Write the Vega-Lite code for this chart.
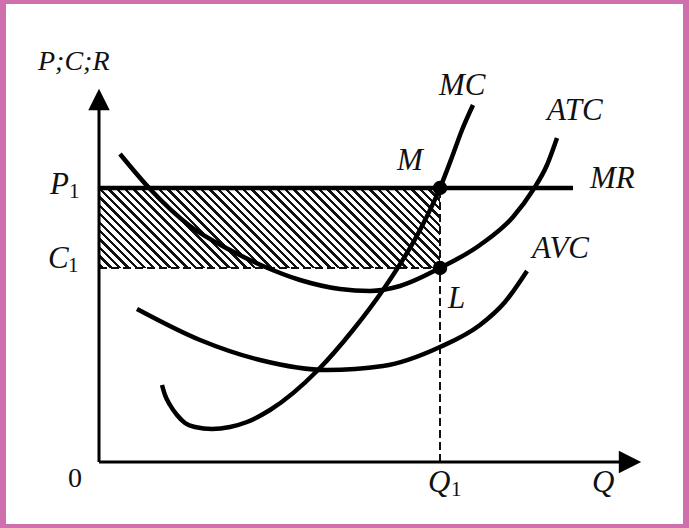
{
  "$schema": "https://vega.github.io/schema/vega-lite/v6.json",
  "width": 689,
  "height": 528,
  "padding": 0,
  "autosize": {"type": "fit", "contains": "padding"},
  "background": "#cf6fae",
  "config": {"view": {"stroke": null}},
  "datasets": {
    "frame": [{"q": -93, "p": 458, "q2": 584, "p2": -62}],
    "profit": [{"q": 0, "p": 274, "q2": 341, "p2": 194}],
    "axes": [
      {"q": 0, "p": 0, "q2": 0, "p2": 355},
      {"q": 0, "p": 0, "q2": 521, "p2": 0}
    ],
    "mr": [{"q": 0, "p": 274, "q2": 474, "p2": 274}],
    "dashed": [
      {"q": 0, "p": 194, "q2": 341, "p2": 194},
      {"q": 341, "p": 0, "q2": 341, "p2": 274}
    ],
    "curves": [
      {"curve": "MC", "q": 63, "p": 77},
      {"curve": "MC", "q": 66, "p": 67},
      {"curve": "MC", "q": 71, "p": 57},
      {"curve": "MC", "q": 78, "p": 47},
      {"curve": "MC", "q": 86, "p": 39},
      {"curve": "MC", "q": 96, "p": 35},
      {"curve": "MC", "q": 113, "p": 33},
      {"curve": "MC", "q": 131, "p": 35},
      {"curve": "MC", "q": 148, "p": 40},
      {"curve": "MC", "q": 171, "p": 52},
      {"curve": "MC", "q": 219, "p": 92},
      {"curve": "MC", "q": 254, "p": 132},
      {"curve": "MC", "q": 284, "p": 172},
      {"curve": "MC", "q": 321, "p": 232},
      {"curve": "MC", "q": 341, "p": 274},
      {"curve": "MC", "q": 353, "p": 305},
      {"curve": "MC", "q": 363, "p": 332},
      {"curve": "MC", "q": 374, "p": 357},
      {"curve": "ATC", "q": 21, "p": 308},
      {"curve": "ATC", "q": 51, "p": 273},
      {"curve": "ATC", "q": 91, "p": 236},
      {"curve": "ATC", "q": 131, "p": 212},
      {"curve": "ATC", "q": 164, "p": 196},
      {"curve": "ATC", "q": 201, "p": 182},
      {"curve": "ATC", "q": 241, "p": 173},
      {"curve": "ATC", "q": 271, "p": 171},
      {"curve": "ATC", "q": 301, "p": 176},
      {"curve": "ATC", "q": 341, "p": 194},
      {"curve": "ATC", "q": 381, "p": 217},
      {"curve": "ATC", "q": 414, "p": 245},
      {"curve": "ATC", "q": 434, "p": 272},
      {"curve": "ATC", "q": 448, "p": 297},
      {"curve": "ATC", "q": 458, "p": 324},
      {"curve": "AVC", "q": 38, "p": 153},
      {"curve": "AVC", "q": 101, "p": 122},
      {"curve": "AVC", "q": 161, "p": 102},
      {"curve": "AVC", "q": 228, "p": 92},
      {"curve": "AVC", "q": 284, "p": 96},
      {"curve": "AVC", "q": 341, "p": 115},
      {"curve": "AVC", "q": 381, "p": 137},
      {"curve": "AVC", "q": 406, "p": 160},
      {"curve": "AVC", "q": 428, "p": 191}
    ],
    "yarrow": [{"q": 0, "p": 362.5}],
    "xarrow": [{"q": 531, "p": 0}],
    "points": [
      {"name": "M", "q": 341, "p": 274},
      {"name": "L", "q": 341, "p": 194}
    ],
    "labels": [
      {"text": "MC", "q": 340, "p": 367},
      {"text": "ATC", "q": 448, "p": 342},
      {"text": "M", "q": 298, "p": 292},
      {"text": "MR", "q": 491, "p": 274},
      {"text": "AVC", "q": 433, "p": 204},
      {"text": "L", "q": 349, "p": 154},
      {"text": "P", "q": -49, "p": 268},
      {"text": "C", "q": -51, "p": 194},
      {"text": "Q", "q": 329, "p": -30},
      {"text": "Q", "q": 493, "p": -30}
    ],
    "title": [{"text": "P;C;R", "q": -61, "p": 392}],
    "subs": [
      {"text": "1", "q": -30, "p": 264},
      {"text": "1", "q": -31, "p": 190},
      {"text": "1", "q": 352, "p": -34}
    ],
    "origin": [{"text": "0", "q": -31, "p": -25}]
  },
  "encoding": {
    "x": {"field": "q", "type": "quantitative", "scale": {"domain": [-99, 590], "nice": false, "zero": false}, "axis": null},
    "y": {"field": "p", "type": "quantitative", "scale": {"domain": [-66, 462], "nice": false, "zero": false}, "axis": null}
  },
  "layer": [
    {
      "data": {"name": "frame"},
      "mark": {"type": "rect", "fill": "#ffffff", "stroke": null},
      "encoding": {"x2": {"field": "q2"}, "y2": {"field": "p2"}}
    },
    {
      "data": {"name": "profit"},
      "mark": {
        "type": "rect",
        "stroke": null,
        "fill": {
          "gradient": "linear",
          "x1": 0, "y1": 1, "x2": 1.1702, "y2": 0.7255,
          "stops": [
            {"offset": 0.006, "color": "#fff"}, {"offset": 0.006, "color": "#111"}, {"offset": 0.014, "color": "#111"}, {"offset": 0.014, "color": "#fff"},
            {"offset": 0.026, "color": "#fff"}, {"offset": 0.026, "color": "#111"}, {"offset": 0.034, "color": "#111"}, {"offset": 0.034, "color": "#fff"},
            {"offset": 0.046, "color": "#fff"}, {"offset": 0.046, "color": "#111"}, {"offset": 0.054, "color": "#111"}, {"offset": 0.054, "color": "#fff"},
            {"offset": 0.066, "color": "#fff"}, {"offset": 0.066, "color": "#111"}, {"offset": 0.074, "color": "#111"}, {"offset": 0.074, "color": "#fff"},
            {"offset": 0.086, "color": "#fff"}, {"offset": 0.086, "color": "#111"}, {"offset": 0.094, "color": "#111"}, {"offset": 0.094, "color": "#fff"},
            {"offset": 0.106, "color": "#fff"}, {"offset": 0.106, "color": "#111"}, {"offset": 0.114, "color": "#111"}, {"offset": 0.114, "color": "#fff"},
            {"offset": 0.126, "color": "#fff"}, {"offset": 0.126, "color": "#111"}, {"offset": 0.134, "color": "#111"}, {"offset": 0.134, "color": "#fff"},
            {"offset": 0.146, "color": "#fff"}, {"offset": 0.146, "color": "#111"}, {"offset": 0.154, "color": "#111"}, {"offset": 0.154, "color": "#fff"},
            {"offset": 0.166, "color": "#fff"}, {"offset": 0.166, "color": "#111"}, {"offset": 0.174, "color": "#111"}, {"offset": 0.174, "color": "#fff"},
            {"offset": 0.186, "color": "#fff"}, {"offset": 0.186, "color": "#111"}, {"offset": 0.194, "color": "#111"}, {"offset": 0.194, "color": "#fff"},
            {"offset": 0.206, "color": "#fff"}, {"offset": 0.206, "color": "#111"}, {"offset": 0.214, "color": "#111"}, {"offset": 0.214, "color": "#fff"},
            {"offset": 0.226, "color": "#fff"}, {"offset": 0.226, "color": "#111"}, {"offset": 0.234, "color": "#111"}, {"offset": 0.234, "color": "#fff"},
            {"offset": 0.246, "color": "#fff"}, {"offset": 0.246, "color": "#111"}, {"offset": 0.254, "color": "#111"}, {"offset": 0.254, "color": "#fff"},
            {"offset": 0.266, "color": "#fff"}, {"offset": 0.266, "color": "#111"}, {"offset": 0.274, "color": "#111"}, {"offset": 0.274, "color": "#fff"},
            {"offset": 0.286, "color": "#fff"}, {"offset": 0.286, "color": "#111"}, {"offset": 0.294, "color": "#111"}, {"offset": 0.294, "color": "#fff"},
            {"offset": 0.306, "color": "#fff"}, {"offset": 0.306, "color": "#111"}, {"offset": 0.314, "color": "#111"}, {"offset": 0.314, "color": "#fff"},
            {"offset": 0.326, "color": "#fff"}, {"offset": 0.326, "color": "#111"}, {"offset": 0.334, "color": "#111"}, {"offset": 0.334, "color": "#fff"},
            {"offset": 0.346, "color": "#fff"}, {"offset": 0.346, "color": "#111"}, {"offset": 0.354, "color": "#111"}, {"offset": 0.354, "color": "#fff"},
            {"offset": 0.366, "color": "#fff"}, {"offset": 0.366, "color": "#111"}, {"offset": 0.374, "color": "#111"}, {"offset": 0.374, "color": "#fff"},
            {"offset": 0.386, "color": "#fff"}, {"offset": 0.386, "color": "#111"}, {"offset": 0.394, "color": "#111"}, {"offset": 0.394, "color": "#fff"},
            {"offset": 0.406, "color": "#fff"}, {"offset": 0.406, "color": "#111"}, {"offset": 0.414, "color": "#111"}, {"offset": 0.414, "color": "#fff"},
            {"offset": 0.426, "color": "#fff"}, {"offset": 0.426, "color": "#111"}, {"offset": 0.434, "color": "#111"}, {"offset": 0.434, "color": "#fff"},
            {"offset": 0.446, "color": "#fff"}, {"offset": 0.446, "color": "#111"}, {"offset": 0.454, "color": "#111"}, {"offset": 0.454, "color": "#fff"},
            {"offset": 0.466, "color": "#fff"}, {"offset": 0.466, "color": "#111"}, {"offset": 0.474, "color": "#111"}, {"offset": 0.474, "color": "#fff"},
            {"offset": 0.486, "color": "#fff"}, {"offset": 0.486, "color": "#111"}, {"offset": 0.494, "color": "#111"}, {"offset": 0.494, "color": "#fff"},
            {"offset": 0.506, "color": "#fff"}, {"offset": 0.506, "color": "#111"}, {"offset": 0.514, "color": "#111"}, {"offset": 0.514, "color": "#fff"},
            {"offset": 0.526, "color": "#fff"}, {"offset": 0.526, "color": "#111"}, {"offset": 0.534, "color": "#111"}, {"offset": 0.534, "color": "#fff"},
            {"offset": 0.546, "color": "#fff"}, {"offset": 0.546, "color": "#111"}, {"offset": 0.554, "color": "#111"}, {"offset": 0.554, "color": "#fff"},
            {"offset": 0.566, "color": "#fff"}, {"offset": 0.566, "color": "#111"}, {"offset": 0.574, "color": "#111"}, {"offset": 0.574, "color": "#fff"},
            {"offset": 0.586, "color": "#fff"}, {"offset": 0.586, "color": "#111"}, {"offset": 0.594, "color": "#111"}, {"offset": 0.594, "color": "#fff"},
            {"offset": 0.606, "color": "#fff"}, {"offset": 0.606, "color": "#111"}, {"offset": 0.614, "color": "#111"}, {"offset": 0.614, "color": "#fff"},
            {"offset": 0.626, "color": "#fff"}, {"offset": 0.626, "color": "#111"}, {"offset": 0.634, "color": "#111"}, {"offset": 0.634, "color": "#fff"},
            {"offset": 0.646, "color": "#fff"}, {"offset": 0.646, "color": "#111"}, {"offset": 0.654, "color": "#111"}, {"offset": 0.654, "color": "#fff"},
            {"offset": 0.666, "color": "#fff"}, {"offset": 0.666, "color": "#111"}, {"offset": 0.674, "color": "#111"}, {"offset": 0.674, "color": "#fff"},
            {"offset": 0.686, "color": "#fff"}, {"offset": 0.686, "color": "#111"}, {"offset": 0.694, "color": "#111"}, {"offset": 0.694, "color": "#fff"},
            {"offset": 0.706, "color": "#fff"}, {"offset": 0.706, "color": "#111"}, {"offset": 0.714, "color": "#111"}, {"offset": 0.714, "color": "#fff"},
            {"offset": 0.726, "color": "#fff"}, {"offset": 0.726, "color": "#111"}, {"offset": 0.734, "color": "#111"}, {"offset": 0.734, "color": "#fff"},
            {"offset": 0.746, "color": "#fff"}, {"offset": 0.746, "color": "#111"}, {"offset": 0.754, "color": "#111"}, {"offset": 0.754, "color": "#fff"},
            {"offset": 0.766, "color": "#fff"}, {"offset": 0.766, "color": "#111"}, {"offset": 0.774, "color": "#111"}, {"offset": 0.774, "color": "#fff"},
            {"offset": 0.786, "color": "#fff"}, {"offset": 0.786, "color": "#111"}, {"offset": 0.794, "color": "#111"}, {"offset": 0.794, "color": "#fff"},
            {"offset": 0.806, "color": "#fff"}, {"offset": 0.806, "color": "#111"}, {"offset": 0.814, "color": "#111"}, {"offset": 0.814, "color": "#fff"},
            {"offset": 0.826, "color": "#fff"}, {"offset": 0.826, "color": "#111"}, {"offset": 0.834, "color": "#111"}, {"offset": 0.834, "color": "#fff"},
            {"offset": 0.846, "color": "#fff"}, {"offset": 0.846, "color": "#111"}, {"offset": 0.854, "color": "#111"}, {"offset": 0.854, "color": "#fff"},
            {"offset": 0.866, "color": "#fff"}, {"offset": 0.866, "color": "#111"}, {"offset": 0.874, "color": "#111"}, {"offset": 0.874, "color": "#fff"},
            {"offset": 0.886, "color": "#fff"}, {"offset": 0.886, "color": "#111"}, {"offset": 0.894, "color": "#111"}, {"offset": 0.894, "color": "#fff"},
            {"offset": 0.906, "color": "#fff"}, {"offset": 0.906, "color": "#111"}, {"offset": 0.914, "color": "#111"}, {"offset": 0.914, "color": "#fff"},
            {"offset": 0.926, "color": "#fff"}, {"offset": 0.926, "color": "#111"}, {"offset": 0.934, "color": "#111"}, {"offset": 0.934, "color": "#fff"},
            {"offset": 0.946, "color": "#fff"}, {"offset": 0.946, "color": "#111"}, {"offset": 0.954, "color": "#111"}, {"offset": 0.954, "color": "#fff"},
            {"offset": 0.966, "color": "#fff"}, {"offset": 0.966, "color": "#111"}, {"offset": 0.974, "color": "#111"}, {"offset": 0.974, "color": "#fff"},
            {"offset": 0.986, "color": "#fff"}, {"offset": 0.986, "color": "#111"}, {"offset": 0.994, "color": "#111"}, {"offset": 0.994, "color": "#fff"}
          ]
        }
      },
      "encoding": {"x2": {"field": "q2"}, "y2": {"field": "p2"}}
    },
    {
      "data": {"name": "dashed"},
      "mark": {"type": "rule", "color": "#111", "strokeWidth": 2, "strokeDash": [8, 4]},
      "encoding": {"x2": {"field": "q2"}, "y2": {"field": "p2"}}
    },
    {
      "data": {"name": "curves"},
      "mark": {"type": "line", "interpolate": "monotone", "color": "#000", "strokeWidth": 4.5, "strokeCap": "butt"},
      "encoding": {"detail": {"field": "curve", "type": "nominal"}}
    },
    {
      "data": {"name": "mr"},
      "mark": {"type": "rule", "color": "#000", "strokeWidth": 4.5},
      "encoding": {"x2": {"field": "q2"}, "y2": {"field": "p2"}}
    },
    {
      "data": {"name": "axes"},
      "mark": {"type": "rule", "color": "#000", "strokeWidth": 3},
      "encoding": {"x2": {"field": "q2"}, "y2": {"field": "p2"}}
    },
    {
      "data": {"name": "yarrow"},
      "mark": {"type": "point", "shape": "M0,-1L1,1L-1,1Z", "size": 462, "filled": true, "color": "#000", "opacity": 1, "strokeWidth": 0}
    },
    {
      "data": {"name": "xarrow"},
      "mark": {"type": "point", "shape": "M1,0L-1,-1L-1,1Z", "size": 500, "filled": true, "color": "#000", "opacity": 1, "strokeWidth": 0}
    },
    {
      "data": {"name": "points"},
      "mark": {"type": "circle", "size": 210, "color": "#000", "opacity": 1}
    },
    {
      "data": {"name": "labels"},
      "mark": {"type": "text", "font": "Liberation Serif", "fontStyle": "italic", "fontSize": 31, "align": "left", "baseline": "alphabetic", "color": "#111"},
      "encoding": {"text": {"field": "text", "type": "nominal"}}
    },
    {
      "data": {"name": "title"},
      "mark": {"type": "text", "font": "Liberation Serif", "fontStyle": "italic", "fontSize": 28, "align": "left", "baseline": "alphabetic", "color": "#111"},
      "encoding": {"text": {"field": "text", "type": "nominal"}}
    },
    {
      "data": {"name": "subs"},
      "mark": {"type": "text", "font": "Liberation Serif", "fontSize": 21, "align": "left", "baseline": "alphabetic", "color": "#111"},
      "encoding": {"text": {"field": "text", "type": "nominal"}}
    },
    {
      "data": {"name": "origin"},
      "mark": {"type": "text", "font": "Liberation Serif", "fontSize": 28, "align": "left", "baseline": "alphabetic", "color": "#111"},
      "encoding": {"text": {"field": "text", "type": "nominal"}}
    }
  ]
}
